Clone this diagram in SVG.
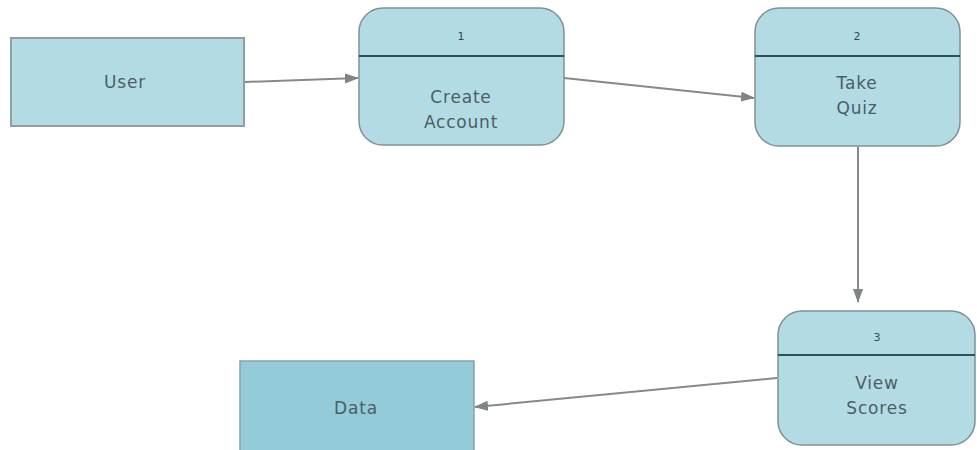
<svg xmlns="http://www.w3.org/2000/svg" width="977" height="450" viewBox="0 0 977 450">
<defs>
<marker id="ah" markerWidth="14" markerHeight="12" refX="13" refY="6" orient="auto" markerUnits="userSpaceOnUse" viewBox="0 0 14 12">
<path d="M0,1 L14,6 L0,11 Z" fill="#7f8587"/>
</marker>
<style>
.ent{fill:#b3dbe4;stroke:#8e9fa4;stroke-width:2}
.proc{fill:#b3dbe4;stroke:#7f9196;stroke-width:1.5}
.div{stroke:#2f4f5a;stroke-width:2}
.lbl{font-family:"DejaVu Sans",sans-serif;font-size:17px;letter-spacing:0.8px;fill:#4a5f66;text-anchor:middle}
.num{font-family:"DejaVu Sans",sans-serif;font-size:11px;fill:#3a4a50;text-anchor:middle}
.con{stroke:#86898a;stroke-width:2;fill:none;marker-end:url(#ah)}
</style>
</defs>
<rect width="977" height="450" fill="#ffffff"/>
<g id="connectors">
<line class="con" x1="245" y1="82" x2="358" y2="78"/>
<line class="con" x1="564" y1="78" x2="754" y2="98"/>
<line class="con" x1="858" y1="147" x2="858" y2="302"/>
<line class="con" x1="777" y1="378" x2="475" y2="407"/>
</g>
<g id="user">
<rect class="ent" x="11" y="38" width="233" height="88"/>
<text class="lbl" x="125" y="88">User</text>
</g>
<g id="p1">
<rect class="proc" x="359" y="8" width="205" height="137" rx="24"/>
<line class="div" x1="359" y1="56" x2="564" y2="56"/>
<text class="num" x="461" y="40">1</text>
<text class="lbl" x="461" y="103">Create</text>
<text class="lbl" x="461" y="128">Account</text>
</g>
<g id="p2">
<rect class="proc" x="755" y="8" width="205" height="138" rx="24"/>
<line class="div" x1="755" y1="56" x2="960" y2="56"/>
<text class="num" x="857" y="40">2</text>
<text class="lbl" x="857" y="89">Take</text>
<text class="lbl" x="857" y="114">Quiz</text>
</g>
<g id="p3">
<rect class="proc" x="778" y="311" width="197" height="134" rx="24"/>
<line class="div" x1="778" y1="355" x2="975" y2="355"/>
<text class="num" x="877" y="341">3</text>
<text class="lbl" x="877" y="389">View</text>
<text class="lbl" x="877" y="414">Scores</text>
</g>
<g id="data">
<rect x="240" y="361" width="234" height="95" fill="#93cbd8" stroke="#86a3aa" stroke-width="1.5"/>
<text class="lbl" x="356" y="414">Data</text>
</g>
</svg>
